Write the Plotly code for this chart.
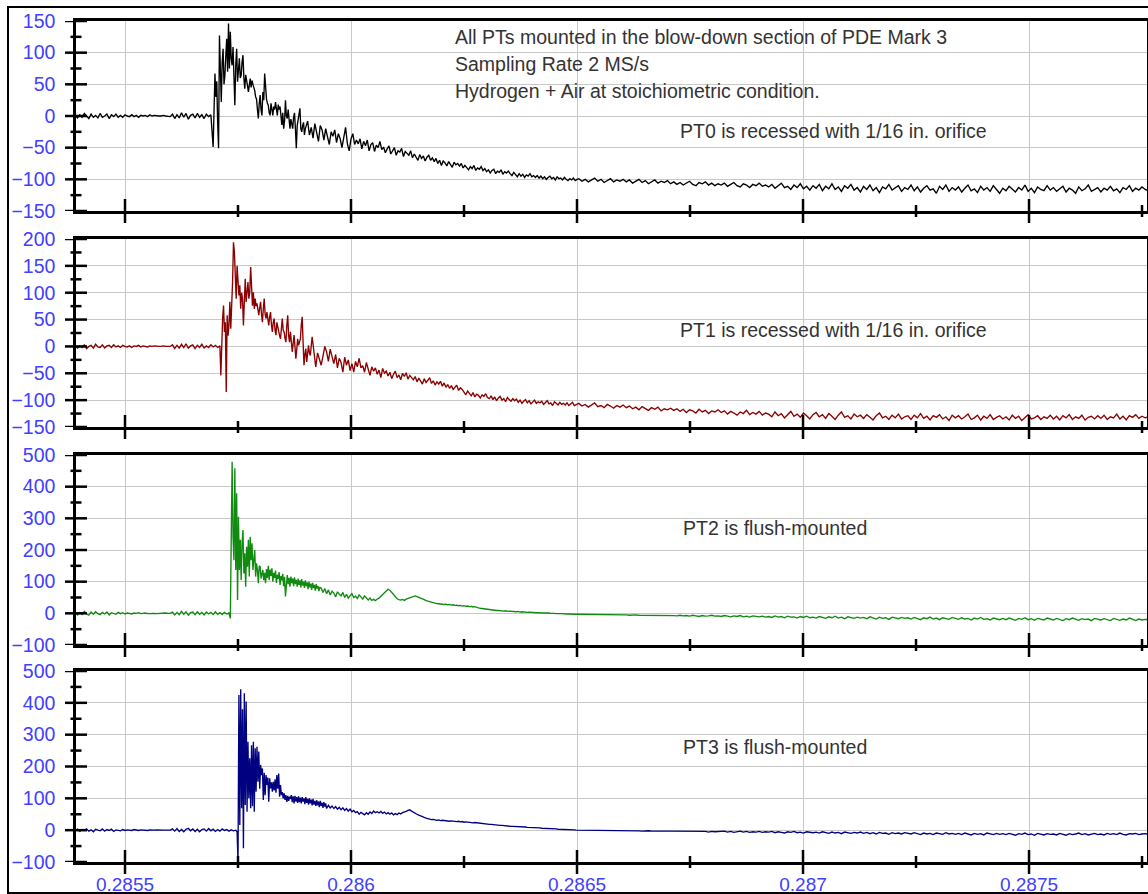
import numpy as np
import plotly.graph_objects as go

# ---------------------------------------------------------------------------
# Pressure records (raw units) of the four transducers.  Each record is kept
# in segments: quiet lead-in, blast arrival, early decay and the long tail.
# A segment is (start time [s], sample spacing [s], values).
# ---------------------------------------------------------------------------
T_START = 0.28539
DT_PRE = 0.000005
DT_BURST = 0.000002
DT_DECAY = 0.000004
DT_TAIL = 0.000007
T_TAIL = 0.286504

# ---- PT0 ----
pt0_pre = [1, -3, 2, -2, 4, -1, -4, 3, -2, 1, -3, 4, -2, 0, 3, -4, 2, -1, 3, -2, 1, -2, 2, 0, -1,
           2, -1, 1, -2, 1, 0, 1, -1, 2, 0, 1, 0, 0, 0, 1, 0, 0, -1,
           3, -4, 2, -3, 5, -2, 4, -5, 1, 3, -3, 4, -2, 2, -4, 3, -1, 2]
pt0_burst_t0 = 0.285695
pt0_burst = [-49, 10, 67, 30, 55, -10, -51, 127, 40, 22, 85, 106, 50, 64, 95, 122, 70, 146, 75, 133,
             90, 80, 109, 60, 17, 80, 106, 54, 70, 91, 60, 64, 85, 96, 60, 43, 65, 59, 48, 38,
             55, 59, 45, 56, 50, 46, 40, 30, 27, 10, -4, 20, 33, 10, 1, 38, 25, 67, 45, 27,
             20, 17, 5, 1, 20, 5, 1, 15, 10, 22, 5, 1, 18, 10, 15, -5, -14, 5, -20, -8,
             25, 0, -4, 10, -10, -20, -5, -14, -20, -2, 5, -20, -51, -15, -4, 5, 12, -20, -25, -15,
             -10, -30, -20]
pt0_decay_t0 = 0.285904
pt0_decay = [-8, -30, -18, -35, -12, -28, -40, -15, -22, -38, -20, -33, -45, -25,
             -32, -22, -42, -28, -36, -50, -30, -18, -44, -55, -36, -28, -45, -38,
             -44, -36, -52, -40, -47, -38, -55, -45, -42, -56, -46, -50, -40, -53,
             -49, -58, -52, -47, -60, -54, -50, -62, -55, -57, -51, -64, -56, -59,
             -62, -55, -66, -60, -64, -70, -61, -67, -63, -71, -65, -62, -70, -66,
             -72, -67, -75, -70, -78, -71, -74, -79, -72, -76, -81, -73, -77, -75,
             -79, -75, -82, -78, -81, -85, -80, -83, -78, -86, -82, -84, -80, -86,
             -83, -88, -85, -90, -86, -84, -91, -87, -89, -85, -92, -88, -90, -87,
             -91, -94, -89, -93, -96, -91, -95, -92, -97, -93, -95, -91, -96, -94,
             -97, -94, -98, -95, -99, -96, -100, -97, -95, -99, -97, -101, -96, -99,
             -98, -101, -97, -100, -102, -99, -101, -98, -102, -100]
pt0_tail = [-99, -103, -100, -104, -101, -98, -103, -100, -105, -102, -99, -104, -101, -103, -100,
            -104, -101, -106, -103, -100, -105, -102, -107, -104, -101, -106, -103, -105, -102, -107,
            -104, -108, -105, -109, -106, -103, -108, -110, -105, -107, -104, -109, -106, -110, -107,
            -109, -106, -111, -108, -105, -110, -112, -107, -109, -113, -108, -110, -106, -111, -109,
            -112, -108, -114, -110, -106, -113, -111, -116, -109, -113, -107, -115, -111, -117, -110,
            -114, -108, -118, -111, -115, -107, -116, -112, -119, -110, -114, -108, -117, -113, -120,
            -111, -116, -109, -118, -113, -121, -112, -115, -108, -117, -114, -110, -119, -113, -116,
            -109, -118, -112, -120, -114, -110, -117, -115, -122, -111, -116, -109, -119, -113, -117,
            -112, -120, -114, -109, -118, -115, -121, -111, -117, -113, -119, -110, -116, -122, -114,
            -118, -111, -116, -120, -113, -117, -109, -119, -114, -121, -112, -116, -118, -110, -117,
            -113, -119, -115, -111, -120, -114, -117, -122, -112, -118, -115, -109, -119, -116, -113,
            -120, -114, -117, -111, -118, -115, -121, -113, -116, -110, -119, -114, -117, -112, -116,
            -118]

# ---- PT1 ----
pt1_pre = [2, -3, 1, -2, 3, -4, 0, 2, -3, 4, -1, -2, 3, -3, 1, 2, -2, 3, -1, 1, -2, 2, 0, -1, 1,
           -2, 1, 0, 2, -1, 1, 0, -1, 1, 0, 1, 0, 0, 0, 1, 0, 0, 0,
           3, -4, 2, -3, 4, -2, 5, -3, 1, 3, -4, 2, -2, 4, -3, 1, -2, 3, -1, 2, -2, 1]
pt1_burst_t0 = 0.285712
pt1_burst = [-54, 10, 52, 76, 27, 45, -85, 58, 20, 40, 83, 33, 70, 120, 194, 176, 132, 89, 150, 110,
             95, 114, 70, 100, 89, 39, 107, 126, 83, 110, 120, 89, 101, 148, 90, 76, 101, 70, 89, 75,
             80, 65, 58, 72, 83, 60, 45, 70, 89, 60, 52, 64, 50, 39, 55, 64, 40, 27, 45, 52,
             30, 21, 45, 35, 27, 20, 14, 35, 52, 30, 27, 15, 8, 40, 58, 20, 8, 27, 10, -10,
             5, 21, 0, -23, -5, 14, 2, 10, 14, 40, 55, 8, -35, -15, -4, -29, -10, 2, -12, -17]
pt1_decay_t0 = 0.285914
pt1_decay = [18, -8, -38, -12, -25, -35, -18, 0, -10, -28, -5, -20, -32, -15,
             -40, -22, -30, -48, -20, -35, -25, -45, -32, -48, -28, -38, -22, -40,
             -36, -48, -30, -42, -54, -38, -46, -40, -52, -44, -58, -41, -50, -46,
             -55, -48, -60, -52, -46, -58, -53, -62, -50, -56, -49, -61, -54, -58,
             -62, -56, -66, -59, -64, -70, -60, -67, -63, -58, -69, -64, -72, -66,
             -70, -65, -74, -68, -76, -71, -78, -73, -80, -75, -72, -82, -77, -80,
             -85, -90, -83, -88, -92, -86, -94, -89, -91, -96, -90, -93, -88, -95,
             -97, -92, -99, -94, -101, -96, -93, -100, -97, -103, -95, -99, -102, -97,
             -101, -98, -104, -100, -106, -102, -99, -105, -101, -107, -103, -100, -106, -103,
             -105, -102, -108, -104, -101, -107, -105, -110, -103, -106, -109, -104, -108, -106,
             -109, -105, -110, -107, -104, -110, -108]
pt1_tail = [-106, -111, -108, -113, -109, -105, -112, -110, -114, -108, -111, -115, -110, -113, -109,
            -114, -111, -116, -113, -118, -112, -115, -119, -114, -117, -113, -120, -116, -118, -115,
            -119, -116, -121, -117, -123, -118, -120, -124, -117, -122, -119, -125, -120, -122, -118,
            -123, -120, -126, -121, -124, -128, -122, -125, -119, -127, -123, -126, -121, -128, -124,
            -126, -131, -122, -129, -125, -133, -127, -121, -130, -126, -132, -124, -129, -135, -127,
            -123, -131, -127, -134, -125, -130, -136, -128, -122, -132, -129, -135, -126, -131, -128,
            -134, -127, -132, -137, -129, -124, -133, -130, -136, -128, -133, -126, -135, -131, -129,
            -136, -128, -133, -125, -134, -130, -137, -129, -132, -127, -135, -131, -138, -128, -133,
            -129, -135, -131, -126, -136, -133, -128, -137, -130, -134, -127, -136, -132, -129, -135,
            -131, -137, -128, -134, -130, -138, -132, -127, -135, -133, -129, -136, -131, -134, -128,
            -135, -130, -137, -129, -133, -127, -136, -131, -134, -128, -137, -132, -130, -135, -129,
            -134, -128, -136, -131, -133, -126, -135, -130, -137, -129, -132, -127, -134, -130, -133,
            -131]

# ---- PT2 ----
pt2_pre = [3, -5, 2, -4, 6, -2, -6, 4, -3, 5, -1, -4, 3, -2, 4, -5, 2, 0, -3, 3, -1, 2, -2, 1, 0,
           -2, 1, 0, 2, -1, 0, 1, -1, 0, 1, 0, -1, 0, 0, 0, 1, 0, 0,
           4, -5, 3, -4, 6, -3, 5, -6, 2, 4, -4, 5, -3, 3, -5, 4, -2, 3, -4, 5, -3, 2, -4, 3, -2, 1]
pt2_burst_t0 = 0.285733
pt2_burst = [-16, 190, 479, 242, 168, 458, 137, 379, 42, 305, 137, 232, 105, 221, 263, 126, 190, 84, 210, 147,
             232, 116, 242, 168, 221, 137, 179, 200, 116, 158, 137, 95, 150, 147, 110, 125, 137, 105, 128, 95,
             140, 112, 150, 105, 138, 118, 142, 100, 128, 112, 135, 96, 122, 108, 130, 90, 118, 104, 125, 86,
             115, 53, 108, 121, 92, 112, 84, 116, 95, 110, 86, 114, 92, 106, 84, 110, 90, 104, 82, 108,
             88, 100, 80, 104, 86, 98, 76, 100, 82, 94, 74, 96, 80, 90, 72, 92, 78, 86, 70, 82]
pt2_decay_t0 = 0.285934
pt2_decay = [80, 66, 78, 62, 74, 58, 70, 64, 52, 68, 60, 55, 66, 50,
             60, 48, 56, 62, 50, 54, 47, 58, 52, 45, 55, 49, 42, 48,
             41, 44, 40, 45, 48, 54, 60, 66, 71, 76, 73, 66, 58, 51,
             46, 43, 42, 44, 41, 45, 47, 49, 52, 54, 55, 53, 51, 48,
             46, 43, 40, 38, 37, 35, 33, 32, 31, 30, 30, 29, 28, 29,
             27, 28, 26, 27, 25, 26, 24, 25, 23, 24, 22, 23, 21, 22,
             20, 21, 18, 17, 16, 15, 14, 13, 13, 12, 11, 11, 10, 9,
             9, 8, 8, 7, 8, 6, 7, 6, 5, 6, 5, 6, 4, 5,
             4, 5, 3, 4, 3, 2, 3, 2, 2, 1, 2, 1, 1, 2,
             1, 0, 1, 0, -1, 0, -1, -1, -2, -1, -2, -2, -3, -2, -3, -3]
pt2_tail = [-3, -3, -4, -3, -4, -4, -3, -4, -5, -4, -4, -5, -4, -5, -5,
            -5, -6, -5, -5, -6, -6, -5, -7, -6, -6, -7, -6, -7, -7, -6,
            -7, -8, -6, -8, -7, -9, -6, -8, -10, -7, -9, -8, -6, -9, -8,
            -10, -7, -9, -11, -8, -10, -7, -11, -9, -12, -8, -10, -11, -9, -12,
            -10, -13, -8, -12, -10, -14, -9, -12, -11, -15, -10, -13, -9, -14, -12,
            -15, -10, -13, -16, -11, -14, -9, -15, -12, -17, -11, -14, -16, -12, -15,
            -13, -17, -11, -15, -18, -12, -16, -14, -19, -12, -15, -17, -13, -16, -14,
            -18, -13, -16, -20, -14, -17, -12, -18, -15, -20, -14, -17, -19, -13, -16,
            -19, -14, -18, -16, -21, -15, -18, -13, -19, -17, -21, -15, -18, -20, -16,
            -20, -15, -18, -22, -16, -19, -14, -20, -17, -22, -16, -19, -21, -15, -18,
            -21, -16, -19, -23, -17, -20, -15, -19, -22, -17, -20, -18, -23, -16, -19,
            -21, -17, -20, -23, -16, -19, -22, -18, -21, -15, -20, -23, -18, -21, -19,
            -20]

# ---- PT3 ----
pt3_pre = [-2, 3, -4, 2, -1, 4, -3, 1, -5, 3, 0, -2, 4, -3, 2, -1, 3, -4, 1, 0, -2, 2, -1, 1, 0,
           -1, 2, 0, -1, 1, 0, 0, -1, 1, 0, 0, 1, 0, 0, 0, 0, 1, 0,
           4, -3, 5, -4, 2, -5, 3, 6, -2, 4, -4, 3, -5, 2, 4, -3, 5, -2, 3, -4, 2, -3, 4, -1, 2, -3,
           1, -2, 0]
pt3_burst_t0 = 0.285748
pt3_burst = [-5, -99, 425, 16, 443, 69, 380, -57, 430, 79, 404, 58, 278, 100, 226, 69, 267, 75, 278, 58,
             257, 121, 262, 152, 247, 130, 205, 173, 194, 95, 180, 110, 173, 142, 165, 89, 163, 131, 150, 121,
             152, 125, 160, 118, 173, 130, 178, 105, 142, 110, 120, 100, 116, 95, 110, 89, 108, 92, 105, 98,
             110, 88, 106, 84, 108, 90, 104, 86, 106, 88, 102, 84, 104, 90, 100, 82, 104, 86, 98, 80,
             100, 84, 96, 78, 98, 80, 92, 76, 94, 78, 90, 72, 92, 76, 86, 70, 88, 74, 84, 68]
pt3_decay_t0 = 0.28595
pt3_decay = [78, 70, 76, 68, 74, 66, 72, 64, 70, 62, 68, 60, 66, 58,
             62, 55, 58, 50, 56, 52, 48, 55, 50, 57, 52, 60, 55, 58,
             54, 59, 53, 57, 51, 55, 50, 54, 48, 52, 49, 54, 51, 55,
             56, 59, 62, 64, 60, 56, 53, 50, 47, 44, 42, 40, 38, 36,
             35, 33, 34, 32, 31, 32, 30, 31, 30, 29, 30, 28, 29, 28,
             28, 27, 28, 26, 27, 25, 26, 25, 24, 25, 23, 24, 23, 22,
             22, 21, 20, 20, 19, 18, 18, 17, 17, 16, 16, 15, 15, 14,
             14, 13, 13, 12, 12, 12, 11, 11, 11, 10, 10, 10, 9, 9,
             9, 8, 8, 7, 7, 7, 6, 6, 6, 5, 5, 5, 4, 4,
             4, 3, 3, 3, 2, 2, 2, 2, 1, 1, 1, 0]
pt3_tail = [0, 0, -1, 0, -1, -1, 0, -1, -1, -1, -2, -1, -1, -2, -1,
            -2, -2, -1, -2, -2, -3, -2, -2, -3, -2, -3, -3, -2, -3, -3,
            -3, -4, -3, -4, -3, -5, -3, -4, -5, -3, -4, -6, -4, -5, -4,
            -5, -3, -6, -4, -7, -5, -3, -6, -4, -7, -5, -6, -4, -7, -5,
            -6, -4, -8, -5, -7, -9, -5, -7, -4, -8, -6, -9, -5, -7, -8,
            -6, -9, -5, -8, -10, -6, -9, -7, -11, -6, -8, -10, -7, -9, -6,
            -10, -7, -11, -8, -12, -7, -10, -9, -13, -8, -11, -9, -12, -8, -10,
            -12, -8, -11, -14, -9, -12, -10, -14, -9, -11, -13, -8, -12, -10, -13,
            -10, -14, -9, -12, -15, -10, -13, -11, -15, -9, -12, -14, -10, -13, -11,
            -14, -10, -13, -16, -11, -13, -9, -14, -12, -16, -10, -13, -15, -11, -13,
            -12, -15, -10, -13, -16, -11, -14, -12, -9, -14, -11, -15, -12, -10, -14,
            -12, -15, -10, -13, -11, -14, -9, -13, -15, -11, -12, -10, -14, -12, -11,
            -13]

# Axis annotation data
x_range = [0.2853916, 0.287761]
x_major = [0.2855, 0.286, 0.2865, 0.287, 0.2875]
x_major_text = ["0.2855", "0.286", "0.2865", "0.287", "0.2875"]
x_minor = [0.28575, 0.28625, 0.28675, 0.28725, 0.28775]

header_lines = ["All PTs mounted in the blow-down section of PDE Mark 3",
                "Sampling Rate 2 MS/s",
                "Hydrogen + Air at stoichiometric condition."]
header_y = [124, 82, 40]
header_x = 0.286226

channels = [
    dict(segments=[(T_START, DT_PRE, pt0_pre), (pt0_burst_t0, DT_BURST, pt0_burst),
                   (pt0_decay_t0, DT_DECAY, pt0_decay), (T_TAIL, DT_TAIL, pt0_tail)],
         color="#000000", yrange=[-150, 150], major=50,
         label="PT0 is recessed with 1/16 in. orifice", label_x=0.2867235, label_y=-24),
    dict(segments=[(T_START, DT_PRE, pt1_pre), (pt1_burst_t0, DT_BURST, pt1_burst),
                   (pt1_decay_t0, DT_DECAY, pt1_decay), (T_TAIL, DT_TAIL, pt1_tail)],
         color="#8b0000", yrange=[-150, 200], major=50,
         label="PT1 is recessed with 1/16 in. orifice", label_x=0.2867235, label_y=30),
    dict(segments=[(T_START, DT_PRE, pt2_pre), (pt2_burst_t0, DT_BURST, pt2_burst),
                   (pt2_decay_t0, DT_DECAY, pt2_decay), (T_TAIL, DT_TAIL, pt2_tail)],
         color="#108a10", yrange=[-100, 500], major=100,
         label="PT2 is flush-mounted", label_x=0.2867300, label_y=269),
    dict(segments=[(T_START, DT_PRE, pt3_pre), (pt3_burst_t0, DT_BURST, pt3_burst),
                   (pt3_decay_t0, DT_DECAY, pt3_decay), (T_TAIL, DT_TAIL, pt3_tail)],
         color="#000080", yrange=[-100, 500], major=100,
         label="PT3 is flush-mounted", label_x=0.2867300, label_y=261),
]

# ---------------------------------------------------------------------------
W, H = 1148, 894
M_L, M_R, M_T, M_B = 76, 1, 21, 32
PLOT_H = H - M_T - M_B
panel_px = [(21, 211), (239, 427), (455, 645), (671, 862)]  # top, bottom (px)


def to_paper_y(py):
    return (H - M_B - py) / PLOT_H


FONT = "Liberation Sans, Arial, Helvetica, sans-serif"
TICK_BLUE = "#4040ff"
GRID = "#c8c8c8"


def build_series(segments):
    ts, vs = [], []
    for t0, dt, vals in segments:
        ts.append(t0 + dt * np.arange(len(vals)))
        vs.append(np.asarray(vals, dtype=float))
    return np.concatenate(ts), np.concatenate(vs)


fig = go.Figure()
shapes = []
annotations = []

for i, ch in enumerate(channels, start=1):
    sfx = "" if i == 1 else str(i)
    t, v = build_series(ch["segments"])
    fig.add_trace(go.Scatter(x=t, y=v, mode="lines", xaxis="x" + sfx, yaxis="y" + sfx,
                             line=dict(color=ch["color"], width=1.35), showlegend=False,
                             hoverinfo="skip"))

    lo, hi = ch["yrange"]
    step = ch["major"]
    y_major = list(np.arange(lo, hi + step / 2, step))
    y_minor = list(np.arange(lo + step / 2, hi, step))
    top, bottom = panel_px[i - 1]

    fig.update_layout(**{
        "xaxis" + sfx: dict(
            domain=[0, 1], anchor="y" + sfx, range=x_range, automargin=False,
            tickmode="array", tickvals=x_major, ticktext=x_major_text,
            showticklabels=(i == 4), ticks="", ticklabelstandoff=3,
            tickfont=dict(family=FONT, size=19, color=TICK_BLUE),
            showgrid=True, gridcolor=GRID, gridwidth=1, zeroline=False,
            showline=True, linecolor="black", linewidth=2.5, mirror=True,
        ),
        "yaxis" + sfx: dict(
            domain=[to_paper_y(bottom), to_paper_y(top)], anchor="x" + sfx,
            range=[lo, hi], tickmode="array", tickvals=y_major, automargin=False,
            ticks="", ticklabelstandoff=14,
            tickfont=dict(family=FONT, size=19.5, color=TICK_BLUE),
            showgrid=True, gridcolor=GRID, gridwidth=1, zeroline=False,
            showline=True, linecolor="black", linewidth=2.5, mirror=True,
        ),
    })

    # tick marks crossing the left axis
    for val, half in [(m, 11) for m in y_major] + [(m, 5.5) for m in y_minor]:
        shapes.append(dict(type="line", xref="paper", yref="y" + sfx,
                           xsizemode="pixel", xanchor=0, x0=-half, x1=half,
                           y0=val, y1=val, line=dict(color="black", width=2.5),
                           layer="above"))
    # tick marks crossing the bottom axis
    for val, half in [(m, 12) for m in x_major] + [(m, 6) for m in x_minor]:
        shapes.append(dict(type="line", xref="x" + sfx, yref="y" + sfx + " domain",
                           ysizemode="pixel", yanchor=0, y0=-half, y1=half,
                           x0=val, x1=val, line=dict(color="black", width=2.5),
                           layer="above"))

    annotations.append(dict(text=ch["label"], x=ch["label_x"], y=ch["label_y"],
                            xref="x" + sfx, yref="y" + sfx, xanchor="left", yanchor="middle",
                            showarrow=False, font=dict(family=FONT, size=19.5, color="#333333")))

for txt, yv in zip(header_lines, header_y):
    annotations.append(dict(text=txt, x=header_x, y=yv, xref="x", yref="y",
                            xanchor="left", yanchor="middle", showarrow=False,
                            font=dict(family=FONT, size=19.5, color="#333333")))

# outer frame around the whole figure
shapes.append(dict(type="rect", xref="paper", yref="paper",
                   x0=(8 - M_L) / (W - M_L - M_R), x1=1.05,
                   y0=to_paper_y(H - 1), y1=to_paper_y(7),
                   line=dict(color="black", width=2), layer="above"))

fig.update_layout(
    width=W, height=H,
    margin=dict(l=M_L, r=M_R, t=M_T, b=M_B, autoexpand=False),
    paper_bgcolor="white", plot_bgcolor="white",
    shapes=shapes, annotations=annotations,
    showlegend=False,
)

fig.write_html("out.html")
